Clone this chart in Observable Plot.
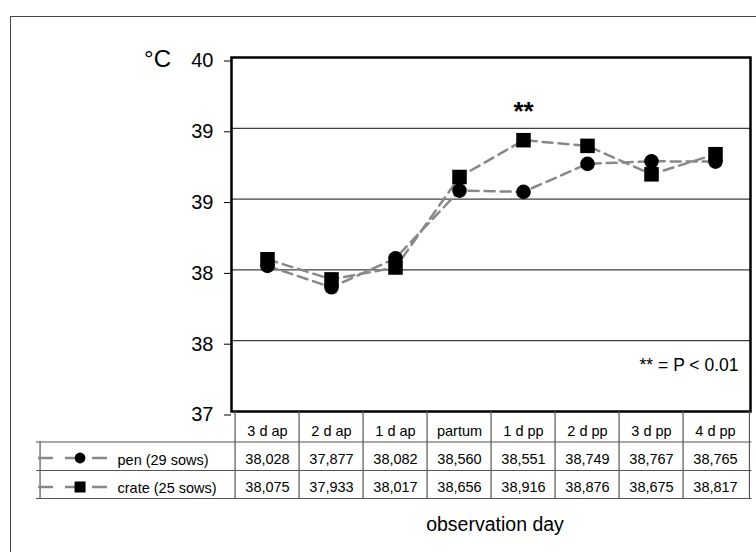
<!DOCTYPE html>
<html>
<head>
<meta charset="utf-8">
<script src="https://cdn.jsdelivr.net/npm/d3@7"></script>
<script src="https://cdn.jsdelivr.net/npm/@observablehq/plot@0.6"></script>
<style>
  html, body { margin: 0; padding: 0; background: #fff; overflow: hidden; }
  #wrap { position: relative; width: 756px; height: 552px; }
  #outer { position: absolute; left: 10px; top: 16px; width: 800px; height: 600px; border: 1.5px solid #444; box-sizing: border-box; }
  #chart { position: absolute; left: 0; top: 0; }
</style>
</head>
<body>
<div id="wrap"><div id="outer"></div><div id="chart"></div></div>
<script>
// ---- data ----
const categories = ["3 d ap", "2 d ap", "1 d ap", "partum", "1 d pp", "2 d pp", "3 d pp", "4 d pp"];
const penValues = [38.028, 37.877, 38.082, 38.560, 38.551, 38.749, 38.767, 38.765];
const crateValues = [38.075, 37.933, 38.017, 38.656, 38.916, 38.876, 38.675, 38.817];
const seriesNames = ["pen (29 sows)", "crate (25 sows)"];
const yTicks = [37, 37.5, 38, 38.5, 39, 39.5];
const yUnit = "°C";
const xTitle = "observation day";
const sigDay = "1 d pp";
const sigMark = "**";
const sigNote = "** = P < 0.01";

// ---- layout ----
const W = 756, H = 552, mL = 231, mR = 6, mT = 57, mB = 141;
const plotW = W - mL - mR;
const step = plotW / categories.length;
const font = "'Liberation Sans', Arial, Helvetica, sans-serif";
const lineGray = "#888";
const tableLine = {stroke: "#555", strokeWidth: 1.2};
const headerDy = 19.5, penDy = 47.5, crateDy = 76;
const tableBottom = 87;
const mid = {lineAnchor: "middle"};

const pen = categories.map((day, i) => ({day, v: penValues[i]}));
const crate = categories.map((day, i) => ({day, v: crateValues[i]}));
const fmt = v => v.toFixed(3).replace(".", ",");
const y0 = yTicks[0];
const firstCenter = mL + step / 2;

const yAxisOpts = {ticks: yTicks, tickFormat: d => String(Math.round(d)), tickSize: 7, tickPadding: 11, fontSize: 20};
const useAxisMark = typeof Plot.axisY === "function";

const marks = [
  // gridlines
  Plot.ruleY(yTicks.slice(1, -1), {stroke: "#111", strokeWidth: 1}),
  // series lines
  Plot.line(crate, {x: "day", y: "v", stroke: lineGray, strokeWidth: 2.5, strokeDasharray: "10,6"}),
  Plot.line(pen, {x: "day", y: "v", stroke: lineGray, strokeWidth: 2.5, strokeDasharray: "10,6"}),
  // markers
  Plot.dot(pen, {x: "day", y: "v", symbol: "circle", r: 7.3, fill: "black"}),
  Plot.dot(crate, {x: "day", y: "v", symbol: "square", r: 8.2, fill: "black"}),
  // significance
  Plot.text(crate.filter(d => d.day === sigDay), {x: "day", y: "v", text: () => sigMark, dy: -29, fontSize: 26, fontWeight: "bold", fill: "black", ...mid}),
  Plot.text([sigNote], {text: d => d, frameAnchor: "bottom-right", dx: -12, dy: -46.5, textAnchor: "end", fontSize: 17.5, fill: "black", ...mid}),
  // unit
  Plot.text([yUnit], {text: d => d, frameAnchor: "top-left", dx: 157 - mL, dy: 2, textAnchor: "middle", fontSize: 24, fill: "black", ...mid}),
  // plot frame
  Plot.frame({stroke: "black", strokeWidth: 2.5}),

  // ---- data table ----
  // horizontal lines
  Plot.ruleY([y0], {dy: 30.5, insetLeft: -195, insetRight: -1.5, ...tableLine}),
  Plot.ruleY([y0], {dy: 59, insetLeft: -195, insetRight: -1.5, ...tableLine}),
  Plot.ruleY([y0], {dy: tableBottom, insetLeft: -195, insetRight: -1.5, ...tableLine}),
  // vertical lines
  Plot.ruleX(categories, {x: d => d, dx: -step / 2, insetTop: H - mT - mB, insetBottom: -tableBottom, ...tableLine}),
  Plot.ruleX([categories[categories.length - 1]], {x: d => d, dx: step / 2 + 1.5, insetTop: H - mT - mB, insetBottom: -tableBottom, ...tableLine}),
  Plot.ruleX([categories[0]], {x: d => d, dx: 36 - firstCenter, insetTop: H - mT - mB + 30.5, insetBottom: -tableBottom, ...tableLine}),
  // header labels
  Plot.text(categories, {x: d => d, text: d => d, frameAnchor: "bottom", dy: headerDy, fontSize: 14.5, fill: "black", ...mid}),
  // values
  Plot.text(pen, {x: "day", text: d => fmt(d.v), frameAnchor: "bottom", dy: penDy, fontSize: 14.5, fill: "black", ...mid}),
  Plot.text(crate, {x: "day", text: d => fmt(d.v), frameAnchor: "bottom", dy: crateDy, fontSize: 14.5, fill: "black", ...mid}),
  // legend samples
  Plot.ruleY([y0], {dy: penDy - 1, insetLeft: -193, insetRight: plotW - 111 + mL, stroke: lineGray, strokeWidth: 2.5, strokeDasharray: "15,12"}),
  Plot.ruleY([y0], {dy: crateDy - 0.5, insetLeft: -193, insetRight: plotW - 111 + mL, stroke: lineGray, strokeWidth: 2.5, strokeDasharray: "15,12"}),
  Plot.dot([{day: categories[0], v: y0}], {x: "day", y: "v", dx: 76 - firstCenter, dy: penDy - 1, symbol: "circle", r: 5.4, fill: "black"}),
  Plot.dot([{day: categories[0], v: y0}], {x: "day", y: "v", dx: 76 - firstCenter, dy: crateDy - 0.5, symbol: "square", r: 6.2, fill: "black"}),
  Plot.text([seriesNames[0]], {text: d => d, frameAnchor: "bottom-left", dx: 117 - mL, dy: penDy + 1, textAnchor: "start", fontSize: 14.5, fill: "black", ...mid}),
  Plot.text([seriesNames[1]], {text: d => d, frameAnchor: "bottom-left", dx: 117 - mL, dy: crateDy + 1, textAnchor: "start", fontSize: 14.5, fill: "black", ...mid}),
  // x title
  Plot.text([xTitle], {text: d => d, frameAnchor: "bottom", dx: 4, dy: 113, fontSize: 19.5, fill: "black", ...mid})
];
if (useAxisMark) marks.push(Plot.axisY({...yAxisOpts, dy: 3.5, label: null}));

const chart = Plot.plot({
  width: W,
  height: H,
  marginLeft: mL,
  marginRight: mR,
  marginTop: mT,
  marginBottom: mB,
  style: {fontFamily: font, fontSize: "20px", background: "transparent", color: "black", overflow: "visible"},
  x: {type: "point", domain: categories, padding: 0.5, axis: null},
  y: useAxisMark
    ? {domain: [yTicks[0], yTicks[yTicks.length - 1]], axis: null}
    : {domain: [yTicks[0], yTicks[yTicks.length - 1]], label: null, ...yAxisOpts},
  marks
});
document.getElementById("chart").appendChild(chart);
</script>
</body>
</html>
